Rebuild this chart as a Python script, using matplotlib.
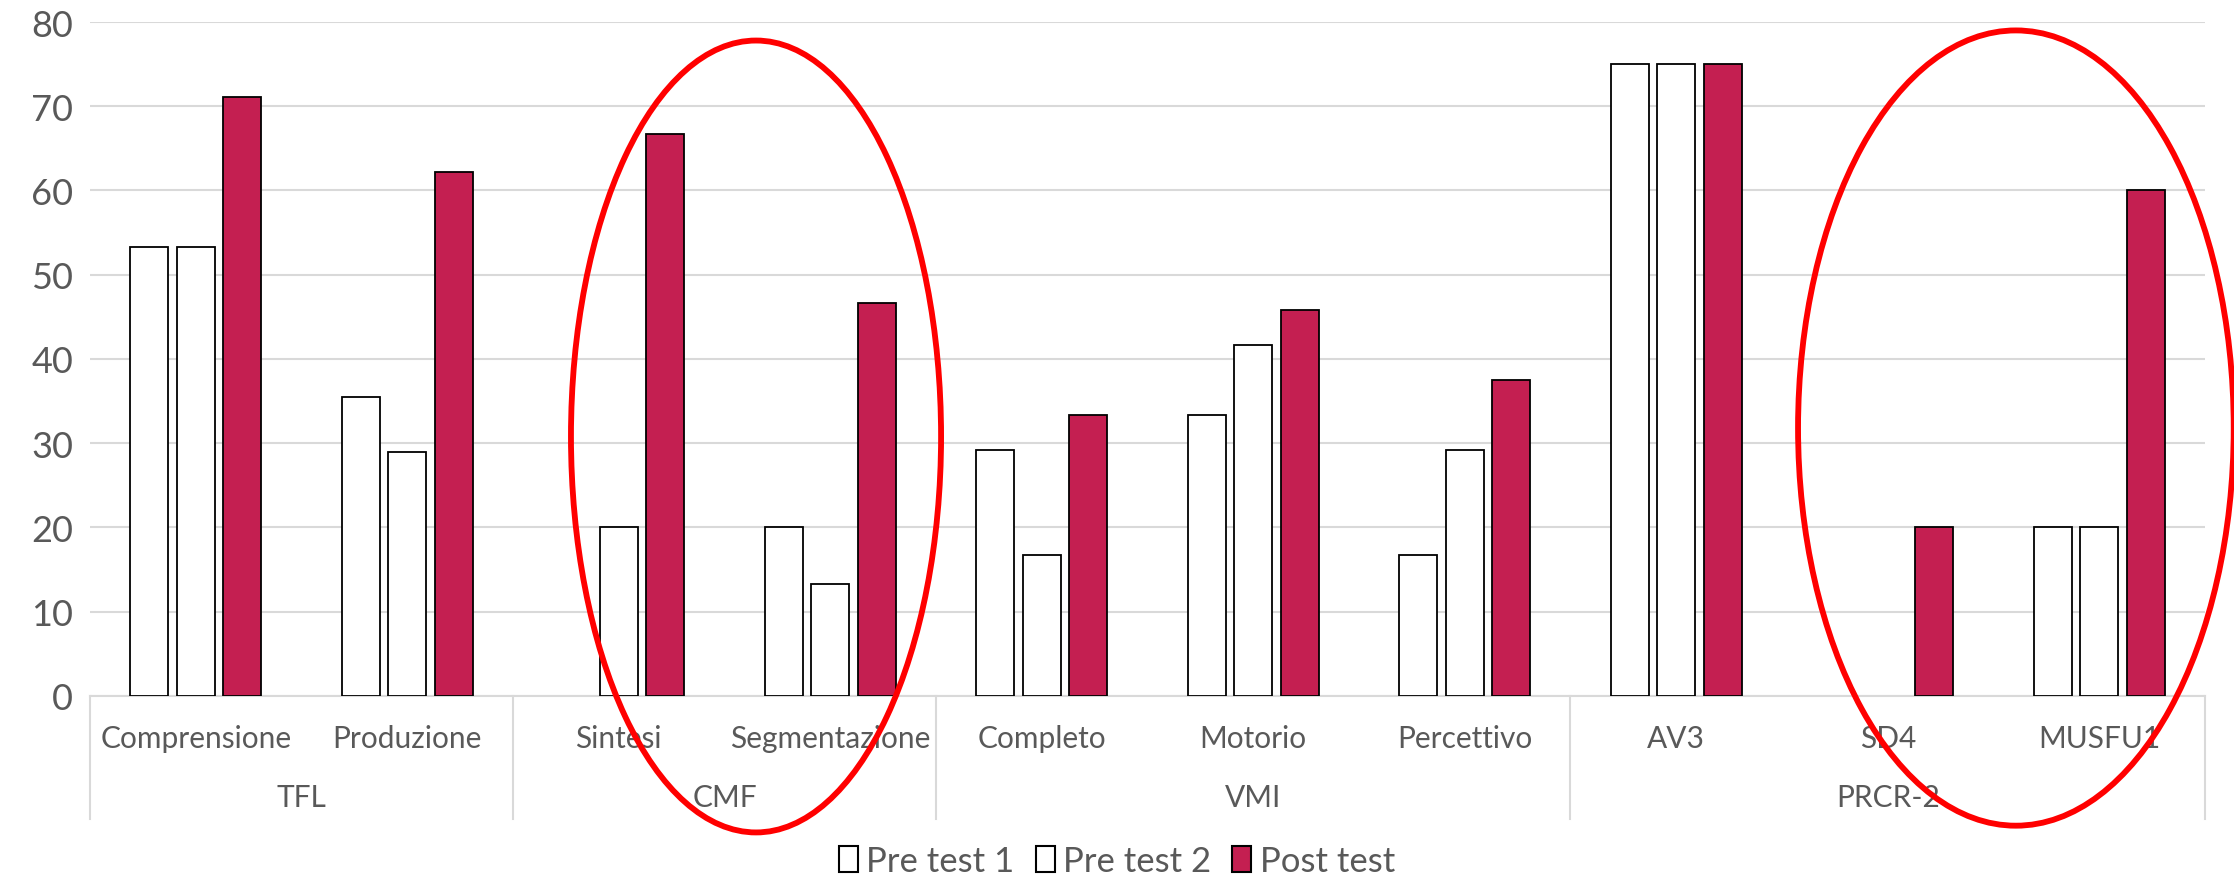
import matplotlib
matplotlib.use("Agg")
import matplotlib.pyplot as plt
from matplotlib.patches import Ellipse, Patch
import numpy as np

plt.rcParams['font.family'] = ['Lato', 'DejaVu Sans']

# data
groups = ["TFL", "CMF", "VMI", "PRCR-2"]
group_sizes = [2, 2, 3, 3]
categories = ["Comprensione", "Produzione", "Sintesi", "Segmentazione",
              "Completo", "Motorio", "Percettivo", "AV3", "SD4", "MUSFU1"]
pre_test_1 = [53.3, 35.5, np.nan, 20.0, 29.2, 33.3, 16.7, 75.0, np.nan, 20.0]
pre_test_2 = [53.3, 28.9, 20.0, 13.3, 16.7, 41.7, 29.2, 75.0, np.nan, 20.0]
post_test = [71.1, 62.2, 66.7, 46.7, 33.3, 45.8, 37.5, 75.0, 20.0, 60.0]
series_names = ["Pre test 1", "Pre test 2", "Post test"]

grey_txt = "#595959"
grid_col = "#D9D9D9"
post_col = "#C41F51"

fig = plt.figure(figsize=(22.34, 8.78), dpi=100)
ax = fig.add_axes([0.0403, 0.2062, 0.9467, 0.7676])

x = np.arange(len(categories))
w = 0.18
step = 0.22
series = [pre_test_1, pre_test_2, post_test]
colors = ["white", "white", post_col]
for k, vals in enumerate(series):
    vals = np.array(vals, dtype=float)
    m = ~np.isnan(vals)
    ax.bar(x[m] + (k - 1) * step, vals[m], width=w, color=colors[k],
           edgecolor="black", linewidth=1.3, zorder=3)

ax.set_xlim(-0.5, len(categories) - 0.5)
ax.set_ylim(0, 80)
ax.set_yticks(range(0, 81, 10))
ax.yaxis.grid(True, color=grid_col, linewidth=1.5, zorder=0)
ax.set_axisbelow(True)
for s in ["top", "right", "left"]:
    ax.spines[s].set_visible(False)
ax.spines["bottom"].set_color(grid_col)
ax.spines["bottom"].set_linewidth(1.5)
ax.tick_params(axis="y", length=0, labelsize=26, labelcolor=grey_txt, pad=12)
ax.tick_params(axis="x", length=0, labelbottom=False)

# two-level category axis
tr = ax.get_xaxis_transform()
for i, c in enumerate(categories):
    ax.text(i, -0.062, c, transform=tr, ha="center", va="center",
            fontsize=21.5, color=grey_txt)
edges = np.concatenate([[0], np.cumsum(group_sizes)]) - 0.5
for g, name in enumerate(groups):
    ax.text((edges[g] + edges[g + 1]) / 2, -0.15, name, transform=tr,
            ha="center", va="center", fontsize=21.5, color=grey_txt)
for e in edges:
    ax.plot([e, e], [0, -0.182], transform=tr, color=grid_col,
            linewidth=1.5, clip_on=False)

# red highlight ellipses
for cx, cy, ew, eh in [(2.649, 30.8, 1.75, 94.0), (8.606, 31.8, 2.06, 94.4)]:
    ax.add_patch(Ellipse((cx, cy), ew, eh, fill=False, edgecolor="#FF0000",
                         linewidth=4.2, clip_on=False, zorder=5))

handles = [Patch(facecolor=c, edgecolor="black", linewidth=1.5) for c in colors]
fig.legend(handles, series_names, loc="center", bbox_to_anchor=(0.5, 0.018),
           ncol=3, frameon=False, fontsize=25, labelcolor=grey_txt,
           handlelength=0.55, handleheight=0.75, handletextpad=0.25,
           columnspacing=0.6)

fig.savefig("out.png", dpi=100)
